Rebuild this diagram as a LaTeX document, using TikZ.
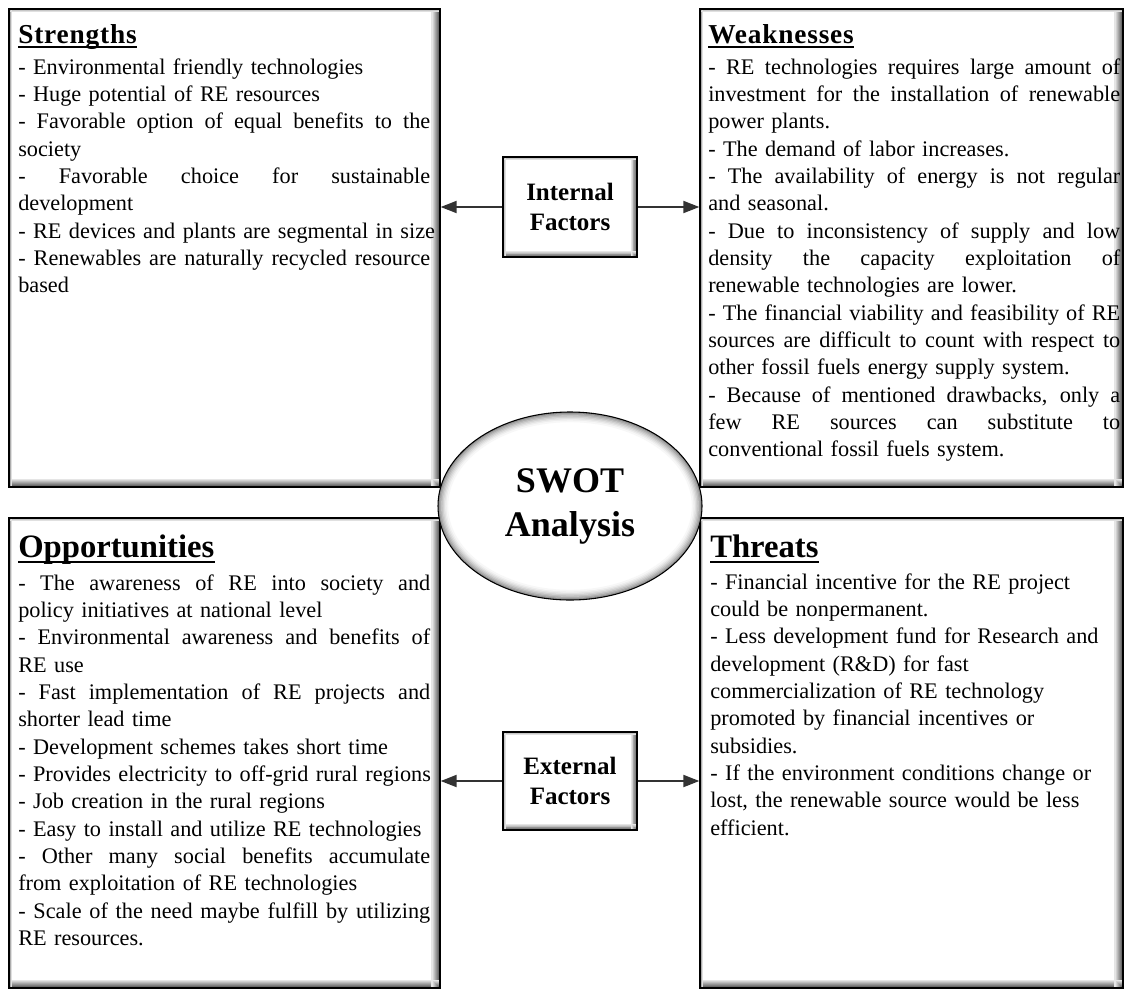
\documentclass[tikz,border=0pt]{standalone}
\usepackage{fontspec}
\setmainfont{Liberation Serif}
\usetikzlibrary{arrows.meta,shapes.geometric}
\newlength\bodyw
\setlength\bodyw{309pt}
\newcommand\myJ[1]{\hbox to\bodyw{\spaceskip=0.25em plus 2em minus 0.08em\relax #1}\par}
\newcommand\myL[1]{\hbox to\bodyw{#1\hfil}\par}
\tikzset{
  bevel/.style n args={4}{path picture={
    \foreach \k in {0,...,7}{%
      \pgfmathtruncatemacro\c{66-8*\k}%
      \draw[black!\c, line width=0.8pt]
        ([xshift=-\k*#1-0.4pt]path picture bounding box.north east) --
        ([xshift=-\k*#1-0.4pt]path picture bounding box.south east);
      \draw[black!\c, line width=0.8pt]
        ([yshift=\k*#2+0.4pt]path picture bounding box.south west) --
        ([yshift=\k*#2+0.4pt]path picture bounding box.south east);
    }
    \foreach \k in {0,...,3}{%
      \pgfmathtruncatemacro\c{42-10*\k}%
      \draw[black!\c, line width=0.7pt]
        ([xshift=\k*#3+0.35pt]path picture bounding box.north west) --
        ([xshift=\k*#3+0.35pt]path picture bounding box.south west);
      \draw[black!\c, line width=0.7pt]
        ([yshift=-\k*#4-0.35pt]path picture bounding box.north west) --
        ([yshift=-\k*#4-0.35pt]path picture bounding box.north east);
    }
  }},
  quad/.style={rectangle, draw=black, line width=1pt, fill=white, inner sep=0pt, bevel={0.8pt}{0.7pt}{0.6pt}{0.5pt}},
  factor/.style={rectangle, draw=black, line width=1pt, fill=white, inner sep=0pt,
    minimum width=100.5pt, bevel={0.55pt}{0.5pt}{0.5pt}{0.5pt}, align=center,
    font=\fontsize{18.75pt}{22.5pt}\selectfont\bfseries},
  swot/.style={ellipse, draw=black, line width=0.8pt, fill=white, inner sep=0pt,
    minimum width=198pt, minimum height=141pt, align=center,
    font=\fontsize{27pt}{33pt}\selectfont\bfseries,
    path picture={
      \foreach \k/\c in {0/52,1/42,2/33,3/25,4/18,5/12,6/7,7/3}
        \draw[black!\c, line width=1.3pt] (path picture bounding box.center) ellipse [x radius=99pt-\k*1pt, y radius=70.5pt-\k*1pt];
    }},
  htop/.style={anchor=base west, inner sep=0pt,
    font=\fontsize{20.5pt}{24pt}\selectfont\bfseries\addfontfeature{LetterSpace=3}},
  hbot/.style={anchor=base west, inner sep=0pt,
    font=\fontsize{24.5pt}{28pt}\selectfont\bfseries},
  ul/.style={line width=1.4pt},
  body/.style={anchor=base west, inner sep=0pt, text width=309pt,
    font=\fontsize{16.7pt}{20.5pt}\selectfont},
  arr/.style={draw=black!80, line width=1.5pt, -{Triangle[length=12pt,width=9pt]}}
}
\begin{document}
\begin{tikzpicture}[x=0.75pt,y=-0.75pt]
\useasboundingbox (0,0) rectangle (1126,992);
\fill[white] (0,0) rectangle (1126,992);

% quadrant boxes
\node[quad, minimum width=323.25pt, minimum height=358.5pt] (S) at (224.5,248) {};
\node[quad, minimum width=317.25pt, minimum height=358.5pt] (W) at (911.5,248) {};
\node[quad, minimum width=323.25pt, minimum height=352.5pt] (O) at (224.5,753) {};
\node[quad, minimum width=317.25pt, minimum height=352.5pt] (T) at (911.5,753) {};

% headings
\node[htop] (Sh) at (18,43) {Strengths};
\node[htop] (Wh) at (708,43) {Weaknesses};
\node[hbot] (Oh) at (18,557) {Opportunities};
\node[hbot] (Th) at (710,557) {Threats};
\draw[ul] ([yshift=-3pt]Sh.base west) -- ([yshift=-3pt]Sh.base east);
\draw[ul] ([yshift=-3pt]Wh.base west) -- ([yshift=-3pt]Wh.base east);
\draw[ul] ([yshift=-3.6pt]Oh.base west) -- ([yshift=-3.6pt]Oh.base east);
\draw[ul] ([yshift=-3.6pt]Th.base west) -- ([yshift=-3.6pt]Th.base east);

% bodies
\node[body] (Sb) at (18,74) {%
\myL{- Environmental friendly technologies}
\myL{- Huge potential of RE resources}
\myJ{- Favorable option of equal benefits to the}
\myL{society}
\myJ{- Favorable choice for sustainable}
\myL{development}
\myL{- RE devices and plants are segmental in size}
\myJ{- Renewables are naturally recycled resource}
\myL{based}};

\node[body] (Wb) at (708,74) {%
\myJ{- RE technologies requires large amount of}
\myJ{investment for the installation of renewable}
\myL{power plants.}
\myL{- The demand of labor increases.}
\myJ{- The availability of energy is not regular}
\myL{and seasonal.}
\myJ{- Due to inconsistency of supply and low}
\myJ{density the capacity exploitation of}
\myL{renewable technologies are lower.}
\myJ{- The financial viability and feasibility of RE}
\myJ{sources are difficult to count with respect to}
\myL{other fossil fuels energy supply system.}
\myJ{- Because of mentioned drawbacks, only a}
\myJ{few RE sources can substitute to}
\myL{conventional fossil fuels system.}};

\node[body] (Ob) at (18,590) {%
\myJ{- The awareness of RE into society and}
\myL{policy initiatives at national level}
\myJ{- Environmental awareness and benefits of}
\myL{RE use}
\myJ{- Fast implementation of RE projects and}
\myL{shorter lead time}
\myL{- Development schemes takes short time}
\myL{- Provides electricity to off-grid rural regions}
\myL{- Job creation in the rural regions}
\myL{- Easy to install and utilize RE technologies}
\myJ{- Other many social benefits accumulate}
\myL{from exploitation of RE technologies}
\myJ{- Scale of the need maybe fulfill by utilizing}
\myL{RE resources.}};

\node[body] (Tb) at (710,589) {%
\myL{- Financial incentive for the RE project}
\myL{could be nonpermanent.}
\myL{- Less development fund for Research and}
\myL{development (R\&D) for fast}
\myL{commercialization of RE technology}
\myL{promoted by financial incentives or}
\myL{subsidies.}
\myL{- If the environment conditions change or}
\myL{lost, the renewable source would be less}
\myL{efficient.}};

% centre ellipse
\node[swot] (E) at (570,506) {SWOT\\Analysis};

% factor boxes
\node[factor, minimum height=75pt] (IF) at (570,207) {Internal\\Factors};
\node[factor, minimum height=73.5pt] (EF) at (570,781) {External\\Factors};

% arrows
\draw[arr] (IF.west) -- (IF.west -| S.east);
\draw[arr] (IF.east) -- (IF.east -| W.west);
\draw[arr] (EF.west) -- (EF.west -| O.east);
\draw[arr] (EF.east) -- (EF.east -| T.west);
\end{tikzpicture}
\end{document}
